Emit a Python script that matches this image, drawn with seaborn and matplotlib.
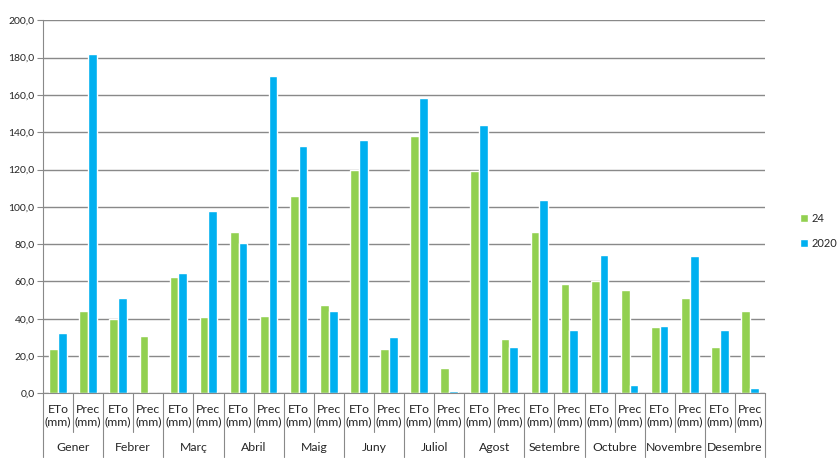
import matplotlib
matplotlib.use("Agg")
import matplotlib.pyplot as plt
import matplotlib.transforms as mtransforms
import numpy as np
import pandas as pd
import seaborn as sns

sns.set_style("white")
plt.rcParams['font.family'] = ['Lato', 'DejaVu Sans']

months = ['Gener', 'Febrer', 'Març', 'Abril', 'Maig', 'Juny',
          'Juliol', 'Agost', 'Setembre', 'Octubre', 'Novembre', 'Desembre']
measures = ['ETo\n(mm)', 'Prec\n(mm)']
series_names = ['24', '2020']
vals_24 = [24.0, 44.1, 39.8, 30.8, 62.5, 41.0, 86.5, 41.5, 105.8, 47.3, 120.0, 23.9,
           138.0, 13.6, 119.4, 29.1, 86.6, 58.6, 60.0, 55.4, 35.6, 51.1, 24.8, 44.1]
vals_2020 = [32.4, 181.8, 51.1, 0.0, 64.5, 97.7, 80.6, 170.0, 132.6, 44.1, 135.8, 30.2,
             158.3, 1.2, 144.0, 24.8, 103.8, 33.9, 74.2, 4.5, 36.1, 73.6, 33.9, 2.9]
yticks = np.arange(0, 201, 20)

cats = [f'{m} {k}' for m in months for k in ('ETo', 'Prec')]
df = pd.DataFrame({
    'cat': cats * 2,
    'serie': [series_names[0]] * len(cats) + [series_names[1]] * len(cats),
    'value': vals_24 + vals_2020,
})

green = '#92D050'
blue = '#00B0F0'
grid_c = '#898989'

fig = plt.figure(figsize=(8.38, 4.65), dpi=100)
ax = fig.add_axes([43 / 838, 1 - 393.3 / 465, (765 - 43) / 838, 373 / 465])
sns.barplot(data=df, x='cat', y='value', hue='serie', order=cats,
            hue_order=series_names, palette=[green, blue], width=0.58,
            saturation=1, ax=ax, legend=True)

ax.set_xlim(-0.5, len(cats) - 0.5)
ax.set_ylim(0, 200)
ax.set_yticks(yticks)
ax.set_yticklabels([f'{v:.1f}'.replace('.', ',') for v in yticks], fontsize=7.5)
ax.yaxis.grid(True, color=grid_c, lw=1)
ax.set_axisbelow(True)
for s in ['top', 'right']:
    ax.spines[s].set_visible(False)
ax.spines['left'].set_color(grid_c)
ax.spines['bottom'].set_color(grid_c)
ax.tick_params(axis='y', left=True, length=4, color=grid_c, pad=2)
ax.set_xticks([])
ax.set_xlabel('')
ax.set_ylabel('')

# multi-level category axis
trans = mtransforms.blended_transform_factory(ax.transData, ax.transAxes)
for i in range(len(cats)):
    ax.text(i, -0.028, measures[i % 2], transform=trans, ha='center', va='top',
            fontsize=8.8, linespacing=1.2)
for j, m in enumerate(months):
    ax.text(2 * j + 0.5, -0.145, m, transform=trans, ha='center', va='center',
            fontsize=8.8)
for i in range(len(cats) + 1):
    low = -0.171 if i % 2 == 0 else -0.104
    ax.plot([i - 0.5, i - 0.5], [0, low], transform=trans, color=grid_c,
            lw=0.8, clip_on=False)

handles, labels = ax.get_legend_handles_labels()
ax.legend(handles, labels, loc='center left', bbox_to_anchor=(790 / 838, 1 - 231 / 465),
          bbox_transform=fig.transFigure, frameon=False, fontsize=8,
          handlelength=0.7, handleheight=0.7, handletextpad=0.3, labelspacing=1.3)

fig.savefig('out.png', dpi=100)
